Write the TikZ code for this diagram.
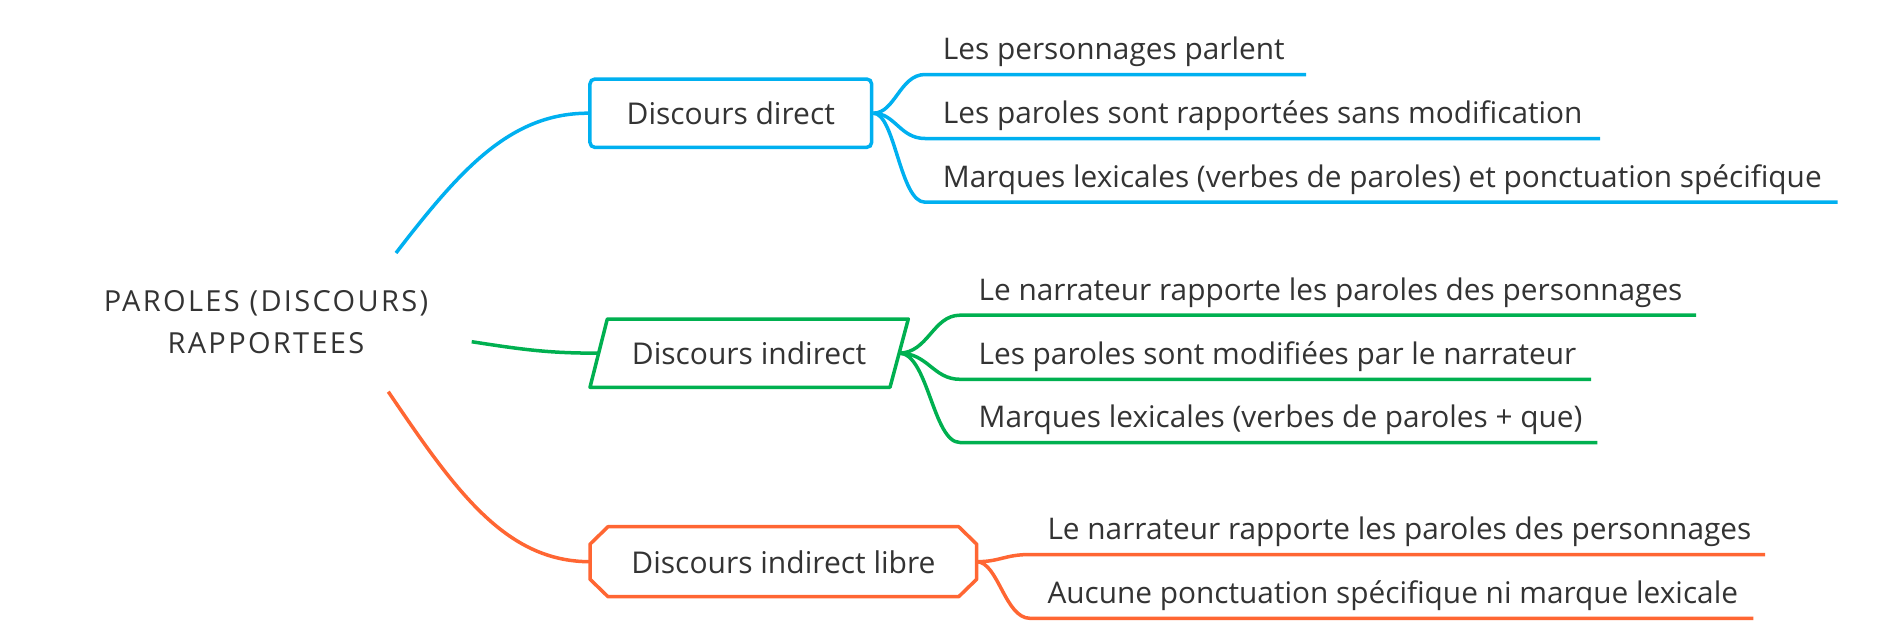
\documentclass[tikz,border=0pt]{standalone}
\usepackage{fontspec}
\setmainfont{Open Sans}
\usetikzlibrary{calc}
\definecolor{cblue}{RGB}{0,176,240}
\definecolor{cgreen}{RGB}{0,176,80}
\definecolor{corange}{RGB}{255,102,51}
\definecolor{ctext}{RGB}{51,51,51}
\begin{document}
\begin{tikzpicture}[x=1pt,y=-1pt,
  conn/.style={line width=3.5pt, line join=round},
  leaf/.style={anchor=base west, inner sep=0pt, text=ctext, font=\fontsize{29.8}{35}\selectfont},
  boxtext/.style={text=ctext, inner sep=0pt, font=\fontsize{30}{35}\selectfont}]
\useasboundingbox (0,0) rectangle (1900,643);

% root
\node[text=ctext, align=center, inner sep=0pt,
      font=\fontsize{29}{41.5}\selectfont\addfontfeatures{LetterSpace=8}] (root) at (266,322)
      {PAROLES (DISCOURS)\\RAPPORTEES};
\coordinate (rb) at (396,253);
\coordinate (rg) at (471.7,341.7);
\coordinate (ro) at (388.3,391.7);

% blue box
\node[draw=cblue, line width=3.5pt, rounded corners=5pt, minimum width=281.7pt,
      minimum height=68.4pt, boxtext] (bd) at (730.8,113.2) {Discours direct};

% green parallelogram
\coordinate (g1) at (607.3,319);
\coordinate (g2) at (908.3,319);
\coordinate (g3) at (890,387.3);
\coordinate (g4) at (590,387.3);
\draw[cgreen, conn] (g1) -- (g2) -- (g3) -- (g4) -- cycle;
\coordinate (gl) at ($(g1)!0.5!(g4)$);
\coordinate (gr) at ($(g2)!0.5!(g3)$);
\node[boxtext] (gd) at (749,353.5) {Discours indirect};

% orange octagon
\draw[corange, conn] (590,544.2) -- (608,526.7) -- (958.7,526.7) -- (976.7,544.2)
  -- (976.7,579.2) -- (958.7,596.7) -- (608,596.7) -- (590,579.2) -- cycle;
\coordinate (ol) at (590,561.7);
\coordinate (orr) at (976.7,561.7);
\node[boxtext] (od) at (783.5,562) {Discours indirect libre};

% main connectors
\draw[cblue, conn] (rb) .. controls (460,170) and (510,113.2) .. (bd.west);
\draw[cgreen, conn] (rg) .. controls (525,350) and (550,353.2) .. (gl);
\draw[corange, conn] (ro) .. controls (455,490) and (505,561.7) .. (ol);

% blue leaves
\node[leaf] (b1) at (942.7,59.8) {Les personnages parlent};
\node[leaf] (b2) at (942.7,123.6) {Les paroles sont rapportées sans modification};
\node[leaf] (b3) at (942.7,187.3) {Marques lexicales (verbes de paroles) et ponctuation spécifique};
\coordinate (b1e) at (1306,74.5);
\coordinate (b2e) at (1600,138.5);
\coordinate (b3e) at (1837.5,202.2);
\draw[cblue, conn] (bd.east) .. controls (895,113.2) and (900,74.5) .. (925,74.5) -- (b1e);
\draw[cblue, conn] (bd.east) .. controls (895,113.2) and (900,138.5) .. (925,138.5) -- (b2e);
\draw[cblue, conn] (bd.east) .. controls (895,113.2) and (900,202.2) .. (925,202.2) -- (b3e);

% green leaves
\node[leaf] (l1) at (978.4,300.4) {Le narrateur rapporte les paroles des personnages};
\node[leaf] (l2) at (978.4,364.4) {Les paroles sont modifiées par le narrateur};
\node[leaf] (l3) at (978.4,427.6) {Marques lexicales (verbes de paroles + que)};
\coordinate (l1e) at (1696,315.2);
\coordinate (l2e) at (1591,379.3);
\coordinate (l3e) at (1597.3,442.5);
\draw[cgreen, conn] (gr) .. controls (928,353) and (933,315.2) .. (960,315.2) -- (l1e);
\draw[cgreen, conn] (gr) .. controls (928,353) and (933,379.3) .. (960,379.3) -- (l2e);
\draw[cgreen, conn] (gr) .. controls (928,353) and (933,442.5) .. (960,442.5) -- (l3e);

% orange leaves
\node[leaf] (o1) at (1047.3,539.7) {Le narrateur rapporte les paroles des personnages};
\node[leaf] (o2) at (1047.3,603.4) {Aucune ponctuation spécifique ni marque lexicale};
\coordinate (o1e) at (1765,554.5);
\coordinate (o2e) at (1753.3,618.3);
\draw[corange, conn] (orr) .. controls (1000,561.7) and (1005,554.5) .. (1030,554.5) -- (o1e);
\draw[corange, conn] (orr) .. controls (998,561.7) and (1005,618.3) .. (1030,618.3) -- (o2e);
\end{tikzpicture}
\end{document}
